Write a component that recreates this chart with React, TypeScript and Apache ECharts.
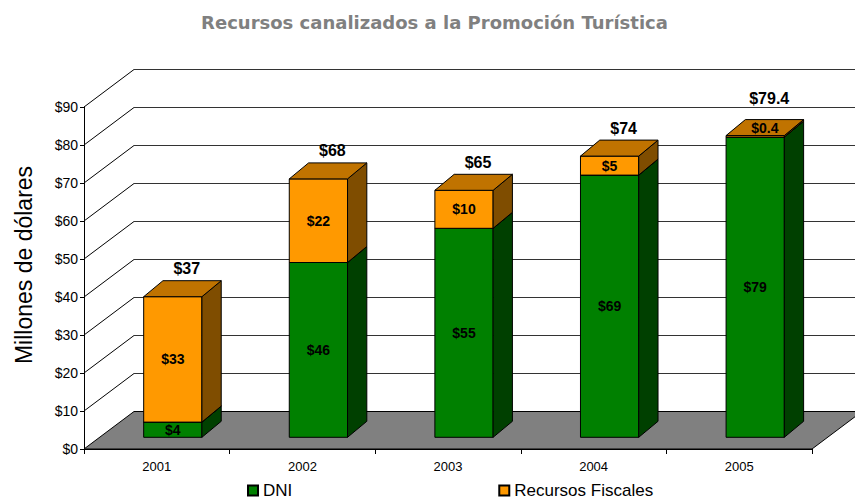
import React, { useEffect, useRef } from "react";
import * as echarts from "echarts";

const years = ["2001", "2002", "2003", "2004", "2005"];
const dni = [4, 46, 55, 69, 79];
const recursosFiscales = [33, 22, 10, 5, 0.4];
const totals = [37, 68, 65, 74, 79.4];
const yTicks = [0, 10, 20, 30, 40, 50, 60, 70, 80, 90];

const FONT = "'Liberation Sans', Arial, Helvetica, sans-serif";
const TITLE = "Recursos canalizados a la Promoción Turística";
const Y_NAME = "Millones de dólares";

// 3D projection constants
const WALL_DX = 50;
const WALL_DY = -37.5;
const BAR_OX = 16;
const BAR_OY = -11.7;
const BAR_DX = 19.3;
const BAR_DY = -16;
const BAR_W_RATIO = 0.4;

function money(v: number) {
  return "$" + v;
}

function barGeom(api: any, i: number, base: number, val: number) {
  const pb = api.coord([i, base]);
  const pt = api.coord([i, base + val]);
  const w = api.size([1, 0])[0] * BAR_W_RATIO;
  const xl = pb[0] + BAR_OX - w / 2;
  const xr = xl + w;
  const yb = pb[1] + BAR_OY;
  const yt = pt[1] + BAR_OY;
  return { xl, xr, yb, yt, w };
}

function makeBarRender(front: string, top: string, side: string) {
  return (params: any, api: any) => {
    const i = api.value(0);
    const base = api.value(1);
    const val = api.value(2);
    const { xl, xr, yb, yt, w } = barGeom(api, i, base, val);
    const thin = yb - yt < 12;
    const lx = thin ? xl + w / 2 + BAR_DX / 2 : xl + w / 2;
    const ly = thin ? yt + BAR_DY / 2 : (yt + yb) / 2;
    return {
      type: "group",
      children: [
        {
          type: "rect",
          shape: { x: xl, y: yt, width: w, height: yb - yt },
          style: { fill: front, stroke: "#000", lineWidth: 1 },
        },
        {
          type: "polygon",
          shape: {
            points: [
              [xr, yb],
              [xr + BAR_DX, yb + BAR_DY],
              [xr + BAR_DX, yt + BAR_DY],
              [xr, yt],
            ],
          },
          style: { fill: side, stroke: "#000", lineWidth: 1 },
        },
        {
          type: "polygon",
          shape: {
            points: [
              [xl, yt],
              [xr, yt],
              [xr + BAR_DX, yt + BAR_DY],
              [xl + BAR_DX, yt + BAR_DY],
            ],
          },
          style: { fill: top, stroke: "#000", lineWidth: 1 },
        },
        {
          type: "text",
          x: lx,
          y: ly,
          style: {
            text: money(val),
            fill: "#000",
            font: `bold 14px ${FONT}`,
            textAlign: "center",
            textVerticalAlign: "middle",
          },
        },
      ],
    };
  };
}

export default function App() {
  const ref = useRef<HTMLDivElement>(null);

  useEffect(() => {
    if (!ref.current) return;
    const chart = echarts.init(ref.current, null, { renderer: "svg" });

    const option: any = {
      animation: false,
      backgroundColor: "#fff",
      textStyle: { fontFamily: FONT },
      graphic: [
        {
          type: "text",
          x: 434.5,
          y: 22,
          style: {
            text: TITLE,
            fill: "#808080",
            font: `bold 18px 'DejaVu Sans', Verdana, sans-serif`,
            textAlign: "center",
            textVerticalAlign: "middle",
          },
        },
        {
          type: "text",
          x: 24,
          y: 265,
          rotation: Math.PI / 2,
          style: {
            text: Y_NAME,
            fill: "#000",
            font: `23px ${FONT}`,
            textAlign: "center",
            textVerticalAlign: "middle",
          },
        },
      ],
      legend: {
        data: ["DNI", "Recursos Fiscales"],
        left: 242,
        top: 477,
        icon: "rect",
        itemWidth: 10,
        itemHeight: 10,
        itemGap: 206,
        textStyle: { fontSize: 17, color: "#000", fontFamily: FONT },
      },
      grid: { left: 84, right: 43, top: 107, bottom: 53, containLabel: false },
      xAxis: {
        type: "category",
        data: years,
        boundaryGap: true,
        axisLine: { show: true, lineStyle: { color: "#000", width: 1 } },
        axisTick: { show: true, length: 5, interval: 0, lineStyle: { color: "#000" } },
        axisLabel: { fontSize: 13, color: "#000", margin: 11, fontFamily: FONT },
        splitLine: { show: false },
      },
      yAxis: {
        type: "value",
        min: 0,
        max: 90,
        interval: 10,
        axisLine: { show: true, lineStyle: { color: "#000", width: 1 } },
        axisTick: { show: true, length: 4, lineStyle: { color: "#000" } },
        axisLabel: {
          fontSize: 14,
          color: "#000",
          margin: 6,
          fontFamily: FONT,
          formatter: (v: number) => money(v),
        },
        splitLine: { show: false },
      },
      series: [
        {
          name: "walls",
          type: "custom",
          clip: false,
          silent: true,
          encode: { x: 0, y: 1 },
          data: yTicks.map((v) => [0, v]),
          renderItem: (params: any, api: any) => {
            const v = api.value(1);
            const cs = params.coordSys;
            const x0 = cs.x;
            const x1 = cs.x + cs.width;
            const y = api.coord([0, v])[1];
            const children: any[] = [];
            if (v === 0) {
              children.push({
                type: "polygon",
                shape: {
                  points: [
                    [x0, y],
                    [x1, y],
                    [x1 + WALL_DX, y + WALL_DY],
                    [x0 + WALL_DX, y + WALL_DY],
                  ],
                },
                style: { fill: "#808080", stroke: "#000", lineWidth: 1 },
              });
            } else {
              children.push({
                type: "line",
                shape: { x1: x0, y1: y, x2: x0 + WALL_DX, y2: y + WALL_DY },
                style: { stroke: "#000", lineWidth: 1 },
              });
              children.push({
                type: "line",
                shape: {
                  x1: x0 + WALL_DX,
                  y1: y + WALL_DY,
                  x2: x1 + WALL_DX,
                  y2: y + WALL_DY,
                },
                style: { stroke: "#333", lineWidth: 1 },
              });
            }
            return { type: "group", children };
          },
        },
        {
          name: "DNI",
          type: "custom",
          clip: false,
          itemStyle: { color: "#008000", borderColor: "#000", borderWidth: 1 },
          encode: { x: 0, y: 2 },
          data: dni.map((v, i) => [i, 0, v]),
          renderItem: makeBarRender("#008000", "#006000", "#004000"),
        },
        {
          name: "Recursos Fiscales",
          type: "custom",
          clip: false,
          itemStyle: { color: "#FF9900", borderColor: "#000", borderWidth: 1 },
          encode: { x: 0, y: 2 },
          data: recursosFiscales.map((v, i) => [i, dni[i], v]),
          renderItem: makeBarRender("#FF9900", "#C07300", "#7F4D00"),
        },
        {
          name: "Total",
          type: "custom",
          clip: false,
          silent: true,
          encode: { x: 0, y: 1 },
          data: totals.map((v, i) => [i, v, recursosFiscales[i]]),
          renderItem: (params: any, api: any) => {
            const i = api.value(0);
            const total = api.value(1);
            const topSeg = api.value(2);
            const g = barGeom(api, i, total - topSeg, topSeg);
            const thin = g.yb - g.yt < 12;
            const backTop = g.yt + BAR_DY;
            return {
              type: "text",
              x: g.xl + g.w / 2 + 14,
              y: backTop - (thin ? 21 : 12),
              style: {
                text: money(total),
                fill: "#000",
                font: `bold 16px ${FONT}`,
                textAlign: "center",
                textVerticalAlign: "middle",
              },
            };
          },
        },
      ],
    };

    chart.setOption(option);
    return () => chart.dispose();
  }, []);

  return <div ref={ref} style={{ width: 855, height: 502, position: "absolute", left: 0, top: 0 }} />;
}
